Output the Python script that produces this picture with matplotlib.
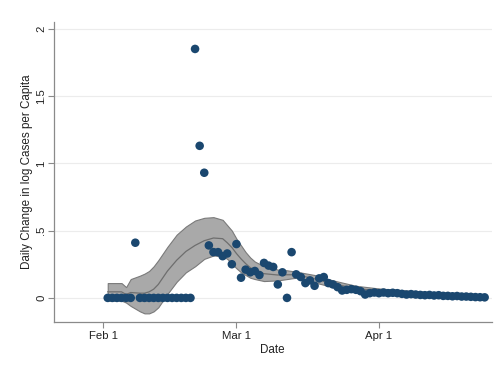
import numpy as np
import matplotlib
matplotlib.use("Agg")
import matplotlib.pyplot as plt

plt.rcParams["font.family"] = ["Liberation Sans", "DejaVu Sans"]

# days counted from Feb 1 (Feb 1 = 0, Mar 1 = 29, Apr 1 = 60)
day = list(range(1, 84))
change = [
    0, 0, 0, 0, 0, 0, 0.41, 0, 0, 0, 0, 0, 0, 0, 0, 0, 0, 0, 0,
    1.85, 1.13, 0.93, 0.39, 0.34, 0.34, 0.31, 0.33, 0.25, 0.40,
    0.15, 0.21, 0.19, 0.20, 0.17, 0.26, 0.24, 0.23, 0.10, 0.19, 0.0,
    0.34, 0.175, 0.155, 0.11, 0.13, 0.09, 0.145, 0.155, 0.11, 0.10,
    0.08, 0.055, 0.06, 0.065, 0.06, 0.05, 0.025, 0.035, 0.04, 0.035,
    0.04, 0.035, 0.038, 0.035, 0.03, 0.025, 0.028, 0.025, 0.022, 0.02,
    0.022, 0.018, 0.02, 0.015, 0.015, 0.012, 0.014, 0.01, 0.01, 0.008,
    0.006, 0.005, 0.004,
]

# local polynomial fit with 95% CI
fit_day = [1, 4, 5, 6, 8, 9, 10, 11, 12, 13, 14, 16, 18, 20, 22, 24, 26, 27,
           28, 29, 30, 31, 32, 33, 35, 38, 40, 42, 46, 50, 55, 60, 70, 83]
fit_hi = [0.11, 0.11, 0.08, 0.14, 0.165, 0.18, 0.20, 0.235, 0.28, 0.33, 0.38,
          0.47, 0.53, 0.575, 0.595, 0.60, 0.58, 0.54, 0.50, 0.44, 0.39, 0.34,
          0.30, 0.27, 0.235, 0.21, 0.205, 0.195, 0.17, 0.13, 0.09, 0.07,
          0.045, 0.02]
fit_lo = [-0.02, -0.02, -0.035, -0.06, -0.10, -0.115, -0.115, -0.10, -0.07,
          -0.02, 0.03, 0.12, 0.19, 0.235, 0.29, 0.315, 0.31, 0.29, 0.255,
          0.22, 0.19, 0.17, 0.15, 0.14, 0.125, 0.13, 0.14, 0.15, 0.115,
          0.08, 0.05, 0.035, 0.015, -0.01]
fit_mid = [0.045, 0.045, 0.025, 0.04, 0.035, 0.035, 0.045, 0.065, 0.10, 0.15,
           0.2, 0.28, 0.345, 0.39, 0.425, 0.445, 0.44, 0.41, 0.375, 0.33,
           0.29, 0.255, 0.225, 0.205, 0.18, 0.17, 0.172, 0.172, 0.142,
           0.105, 0.07, 0.052, 0.03, 0.005]

xticks = [0, 29, 60]
xticklabels = ["Feb 1", "Mar 1", "Apr 1"]
yticks = [0, 0.5, 1, 1.5, 2]
yticklabels = ["0", ".5", "1", "1.5", "2"]

navy = "#1a476f"
axis_gray = "#8a8a8a"
txt = "#222222"

fig = plt.figure(figsize=(4.95, 3.67), dpi=100)
ax = fig.add_axes([0.109, 0.1234, 0.884, 0.8166])

ax.fill_between(fit_day, fit_lo, fit_hi, facecolor="#a9a9a9",
                edgecolor="#7a7a7a", linewidth=0.8, zorder=2)
ax.plot(fit_day, fit_mid, color="#6e6e6e", linewidth=0.9, zorder=3)
ax.scatter(day, change, s=38, color=navy, edgecolors="none", zorder=4)

ax.set_xlim(-10.7, 84.5)
ax.set_ylim(-0.177, 2.05)

ax.set_xticks(xticks)
ax.set_xticklabels(xticklabels)
ax.set_yticks(yticks)
ax.set_yticklabels(yticklabels)
for lab in ax.get_yticklabels():
    lab.set_rotation(90)
    lab.set_va("center")
    lab.set_ha("center")

ax.tick_params(axis="both", colors=axis_gray, labelcolor=txt, labelsize=8.2,
               length=4, width=0.8)
ax.tick_params(axis="y", pad=5)
ax.tick_params(axis="x", pad=3)

ax.grid(axis="y", color="#ececec", linewidth=0.8)
ax.set_axisbelow(True)

for side in ("top", "right"):
    ax.spines[side].set_visible(False)
for side in ("left", "bottom"):
    ax.spines[side].set_color(axis_gray)
    ax.spines[side].set_linewidth(0.9)

ax.set_xlabel("Date", fontsize=8.4, color=txt, labelpad=2)
ax.set_ylabel("Daily Change in log Cases per Capita", fontsize=8.4, color=txt)
ax.yaxis.set_label_coords(-0.047, 0.5)

fig.savefig("out.png", dpi=100, facecolor="white")
